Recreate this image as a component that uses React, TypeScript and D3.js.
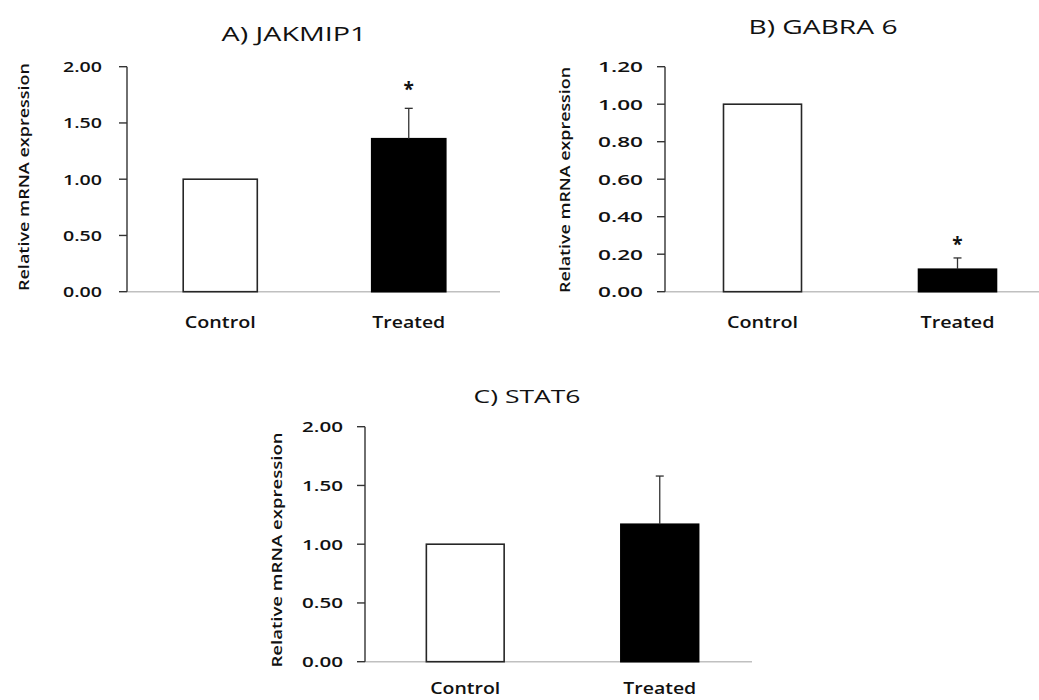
import React from "react";
import * as d3 from "d3";

const categories = ["Control", "Treated"];

const jakmipMeans = [1.0, 1.36];
const jakmipErr = [0, 0.27];
const jakmipSig = [false, true];

const gabraMeans = [1.0, 0.12];
const gabraErr = [0, 0.06];
const gabraSig = [false, true];

const statMeans = [1.0, 1.17];
const statErr = [0, 0.41];
const statSig = [false, false];

const ticksA = [0, 0.5, 1.0, 1.5, 2.0];
const ticksB = [0, 0.2, 0.4, 0.6, 0.8, 1.0, 1.2];
const ticksC = [0, 0.5, 1.0, 1.5, 2.0];

const yLabel = "Relative mRNA expression";
const FONT = "'Open Sans', 'DejaVu Sans', sans-serif";

type Layout = {
  axisX: number;
  left: number;
  right: number;
  baseEnd: number;
  yTop: number;
  yBottom: number;
  titleX: number;
  titleY: number;
  titleLen: number;
  titleSize: number;
  yLabelX: number;
  yLabelY: number;
  yLabelLen: number;
  catY: number;
  catLen: number[];
  tickPad: number;
  tickLen: number;
  pad: number;
  starGap: number;
};

type PanelProps = {
  title: string;
  means: number[];
  errs: number[];
  sig: boolean[];
  ticks: number[];
  L: Layout;
};

function Panel({ title, means, errs, sig, ticks, L }: PanelProps) {
  const yMax = ticks[ticks.length - 1];
  const y = d3.scaleLinear().domain([0, yMax]).range([L.yBottom, L.yTop]);
  const x = d3
    .scaleBand<string>()
    .domain(categories)
    .range([L.left, L.right])
    .paddingInner(L.pad)
    .paddingOuter(L.pad / 2);
  const bw = x.bandwidth();
  const fmt = d3.format(".2f");
  const tickSize = 8;
  return (
    <g>
      <text
        x={L.titleX}
        y={L.titleY}
        textAnchor="middle"
        fontFamily={FONT}
        fontSize={L.titleSize}
        fill="#111"
        textLength={L.titleLen}
        lengthAdjust="spacingAndGlyphs"
      >
        {title}
      </text>
      <text
        transform={`translate(${L.yLabelX},${L.yLabelY}) rotate(-90)`}
        textAnchor="middle"
        fontFamily={FONT}
        fontSize={14.5}
        fontWeight={600}
        fill="#111"
        textLength={L.yLabelLen}
        lengthAdjust="spacingAndGlyphs"
      >
        {yLabel}
      </text>
      {/* baseline */}
      <line
        x1={L.axisX}
        x2={L.baseEnd}
        y1={y(0)}
        y2={y(0)}
        stroke="#c0c0c0"
        strokeWidth={1.6}
      />
      {/* y axis */}
      <line
        x1={L.axisX}
        x2={L.axisX}
        y1={y(yMax)}
        y2={y(0)}
        stroke="#333"
        strokeWidth={1.4}
      />
      {ticks.map((t) => (
        <g key={t}>
          <line
            x1={L.axisX - tickSize}
            x2={L.axisX}
            y1={y(t)}
            y2={y(t)}
            stroke="#333"
            strokeWidth={1.4}
          />
          <text
            x={L.axisX - tickSize - L.tickPad}
            y={y(t)}
            dy="0.36em"
            textAnchor="end"
            fontFamily={FONT}
            fontSize={15}
            fontWeight={600}
            fill="#111"
            textLength={L.tickLen}
            lengthAdjust="spacingAndGlyphs"
          >
            {fmt(t)}
          </text>
        </g>
      ))}
      {categories.map((c, i) => {
        const x0 = x(c) as number;
        const cx = x0 + bw / 2;
        const top = y(means[i]);
        const errTop = y(means[i] + errs[i]);
        return (
          <g key={c}>
            <rect
              x={x0}
              y={top}
              width={bw}
              height={y(0) - top}
              fill={i === 0 ? "#ffffff" : "#000000"}
              stroke={i === 0 ? "#262626" : "#000"}
              strokeWidth={1.6}
            />
            {errs[i] > 0 && (
              <g stroke="#333" strokeWidth={1.3}>
                <line x1={cx} x2={cx} y1={top} y2={errTop} />
                <line x1={cx - 4} x2={cx + 4} y1={errTop} y2={errTop} />
              </g>
            )}
            {sig[i] && (
              <text
                x={cx}
                y={errTop - L.starGap}
                textAnchor="middle"
                fontFamily={FONT}
                fontSize={19}
                fontWeight={700}
                fill="#111"
              >
                *
              </text>
            )}
            <text
              x={cx}
              y={L.catY}
              textAnchor="middle"
              fontFamily={FONT}
              fontSize={17}
              fontWeight={600}
              fill="#111"
              textLength={L.catLen[i]}
              lengthAdjust="spacingAndGlyphs"
            >
              {c}
            </text>
          </g>
        );
      })}
    </g>
  );
}

const layoutA: Layout = {
  axisX: 127,
  left: 126,
  right: 503,
  baseEnd: 500,
  yTop: 66.7,
  yBottom: 291.7,
  titleX: 294,
  titleY: 41,
  titleLen: 145,
  titleSize: 20,
  yLabelX: 29,
  yLabelY: 177,
  yLabelLen: 228,
  catY: 328,
  catLen: [71, 73],
  tickPad: 17,
  tickLen: 39,
  pad: 0.607,
  starGap: 12,
};

const layoutB: Layout = {
  axisX: 665,
  left: 665,
  right: 1055,
  baseEnd: 1055,
  yTop: 66.7,
  yBottom: 291.7,
  titleX: 823,
  titleY: 34,
  titleLen: 149,
  titleSize: 20,
  yLabelX: 570,
  yLabelY: 180,
  yLabelLen: 226,
  catY: 328,
  catLen: [71, 74],
  tickPad: 14,
  tickLen: 45,
  pad: 0.6,
  starGap: 7,
};

const layoutC: Layout = {
  axisX: 365,
  left: 368,
  right: 757,
  baseEnd: 752,
  yTop: 426.7,
  yBottom: 661.7,
  titleX: 527,
  titleY: 403,
  titleLen: 107,
  titleSize: 19,
  yLabelX: 282,
  yLabelY: 550,
  yLabelLen: 235,
  catY: 694,
  catLen: [70, 73],
  tickPad: 14,
  tickLen: 41,
  pad: 0.6,
  starGap: 10,
};

export default function App() {
  return (
    <svg
      width={1039}
      height={700}
      style={{ position: "absolute", left: 0, top: 0, background: "#fff" }}
    >
      <rect x={0} y={0} width={1039} height={700} fill="#fff" />
      <Panel
        title="A) JAKMIP1"
        means={jakmipMeans}
        errs={jakmipErr}
        sig={jakmipSig}
        ticks={ticksA}
        L={layoutA}
      />
      <Panel
        title="B) GABRA 6"
        means={gabraMeans}
        errs={gabraErr}
        sig={gabraSig}
        ticks={ticksB}
        L={layoutB}
      />
      <Panel
        title="C) STAT6"
        means={statMeans}
        errs={statErr}
        sig={statSig}
        ticks={ticksC}
        L={layoutC}
      />
    </svg>
  );
}
